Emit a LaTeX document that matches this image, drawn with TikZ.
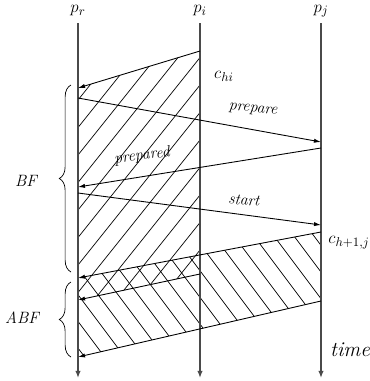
\documentclass[tikz,border=0pt]{standalone}
\usetikzlibrary{arrows.meta, decorations.pathreplacing}
\definecolor{cline}{HTML}{4A4A4A}
\tikzset{
  life/.style={draw=cline, line width=1.1pt, -{Latex[length=6pt, width=4.5pt]}},
  msg/.style={-{Latex[length=6pt, width=3.6pt]}, line width=0.75pt},
  hatch/.style={line width=0.6pt},
  proc/.style={font=\fontsize{15}{17}\selectfont, inner sep=1pt},
  lbl/.style={font=\fontsize{13.5}{16}\selectfont\itshape, inner sep=1pt},
  brc/.style={decorate, decoration={brace, amplitude=10pt, aspect=0.5}, line width=0.6pt},
}

\begin{document}
\begin{tikzpicture}[x=0.03cm, y=-0.03cm]
  \useasboundingbox (0,0) rectangle (370,381);
  % processes and their time lines
  \foreach \n/\x in {r/78, i/200, j/321} {
    \node[proc] (p\n) at (\x,11) {$p_\n$};
    \coordinate (\n top) at (\x,23);
    \coordinate (\n bot) at (\x,378);
  }
  % message end points
  \coordinate (i1) at (200,51);  \coordinate (r1) at (78,88);
  \coordinate (r2) at (78,98);   \coordinate (j2) at (321,142);
  \coordinate (j3) at (321,148); \coordinate (r3) at (78,187);
  \coordinate (r4) at (78,193);  \coordinate (j4) at (321,225);
  \coordinate (j5) at (321,232); \coordinate (r5) at (78,278);
  \coordinate (i6) at (200,274); \coordinate (r6) at (78,300);
  \coordinate (j7) at (321,301); \coordinate (r7) at (78,357);
  % hatched intervals
  \begin{scope}
    \clip (i1) -- (r1) -- (r6) -- (i6) -- cycle;
    \foreach \k in {-228,-206,...,146} \draw[hatch] (\k,400) -- ++(320,-400);
  \end{scope}
  \begin{scope}
    \clip (j5) -- (r5) -- (r7) -- (j7) -- cycle;
    \foreach \k in {97,117,...,477} \draw[hatch] (\k,400) -- ++(-300,-400);
  \end{scope}
  \foreach \n in {r,i,j} \draw[life] (\n top) -- (\n bot);
  \foreach \a/\b in {i1/r1, r2/j2, j3/r3, r4/j4, j5/r5, i6/r6, j7/r7}
    \draw[msg] (\a) -- (\b);
  % labels
  \node[proc] (chi) at (224,76) {$c_{hi}$};
  \node[lbl, rotate=-6] (prep) at (253,110) {prepare};
  \node[lbl, rotate=7] (prepd) at (142,156) {prepared};
  \node[lbl, rotate=-5] (st) at (244,200) {start};
  \node[proc] (chj) at (349,243) {$c_{h+1,j}$};
  \node[lbl, font=\fontsize{18}{21}\selectfont\itshape] (time) at (350,350) {time};
  % braces
  \draw[brc] (71,272) -- (71,85);
  \draw[brc] (71,357) -- (71,282);
  \node[lbl, font=\fontsize{14}{16}\selectfont\itshape] (bf) at (26,181) {BF};
  \node[lbl, font=\fontsize{14}{16}\selectfont\itshape] (abf) at (22,318) {ABF};
\end{tikzpicture}
\end{document}
